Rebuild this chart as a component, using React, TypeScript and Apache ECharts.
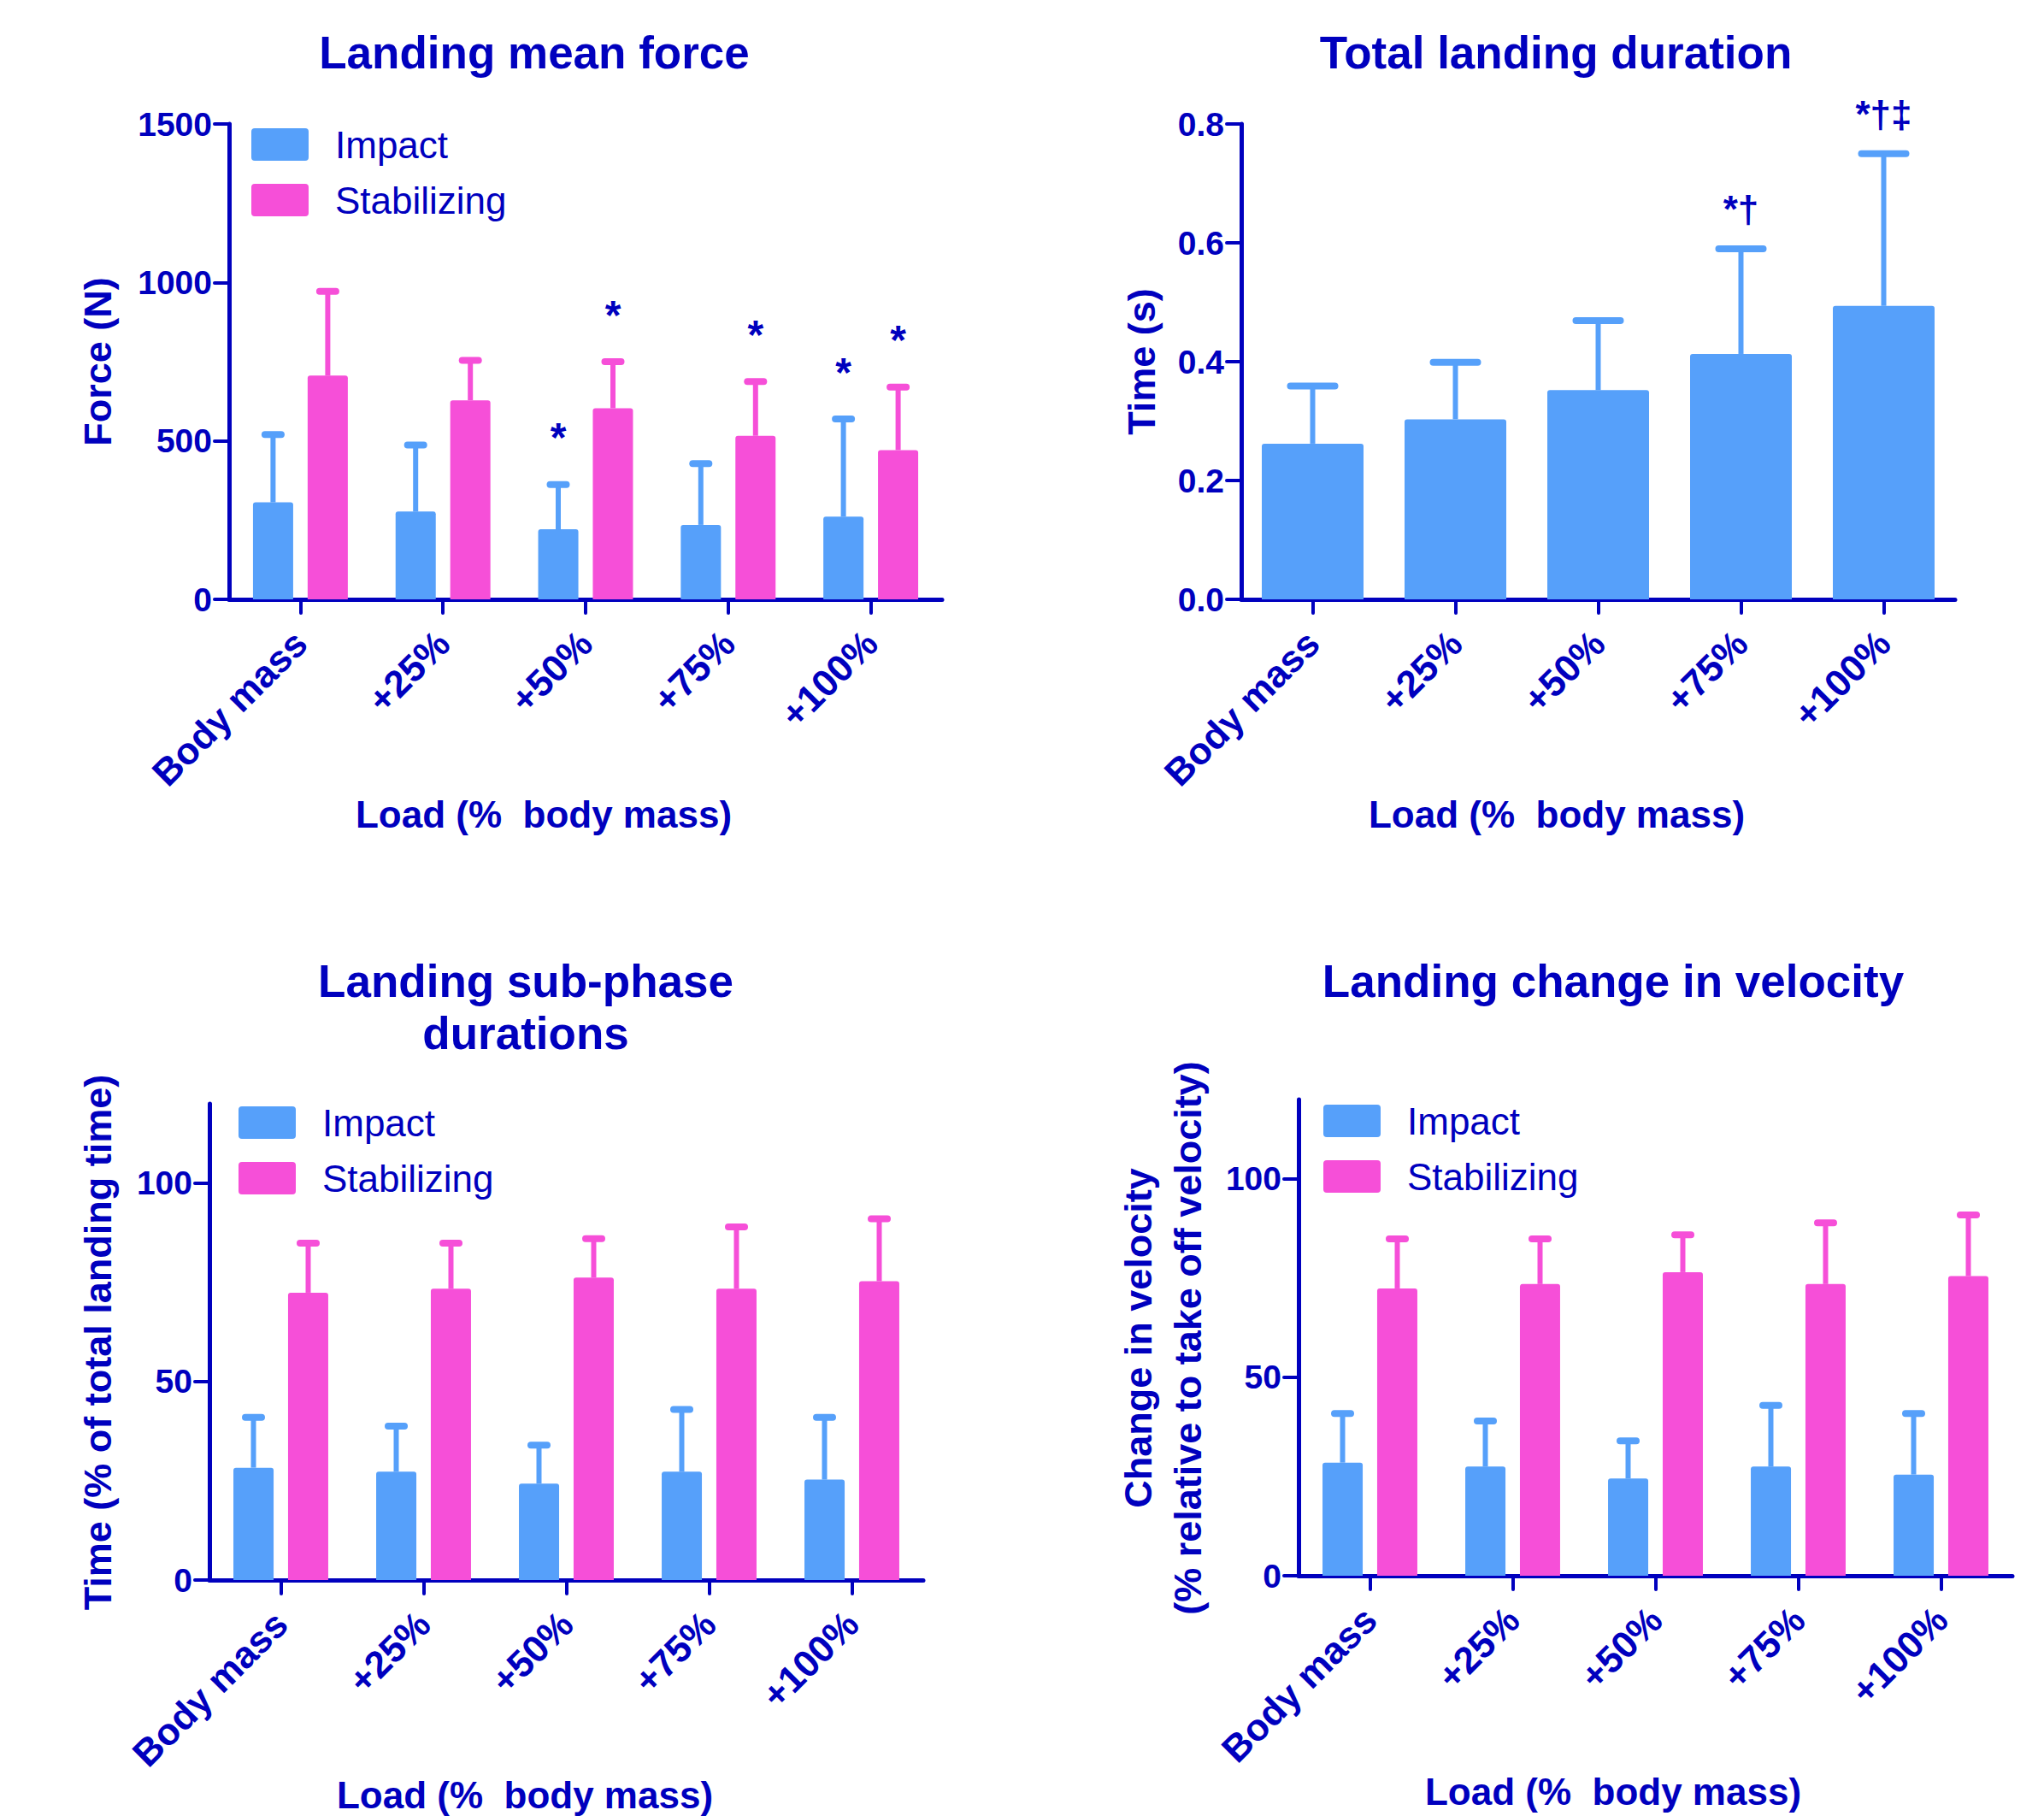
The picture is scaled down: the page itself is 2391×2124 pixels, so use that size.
import React, { useEffect, useRef } from 'react';
import * as echarts from 'echarts';

// ---- data ----
const loadCategories = ['Body mass', '+25%', '+50%', '+75%', '+100%'];
const seriesNames = ['Impact', 'Stabilizing'];

// Landing mean force (N): mean and mean + SD
const forceImpactMean = [306, 277, 221, 235, 261];
const forceImpactUpper = [520, 487, 362, 428, 569];
const forceImpactMarks = ['', '', '*', '', '*'];
const forceStabMean = [706, 628, 603, 516, 471];
const forceStabUpper = [972, 754, 750, 687, 670];
const forceStabMarks = ['', '', '*', '*', '*'];

// Total landing duration (s)
const durationMean = [0.262, 0.303, 0.352, 0.413, 0.494];
const durationUpper = [0.359, 0.399, 0.469, 0.59, 0.75];
const durationMarks = ['', '', '', '*†', '*†‡'];

// Landing sub-phase durations (% of total landing time)
const phaseImpactMean = [28.3, 27.3, 24.3, 27.3, 25.3];
const phaseImpactUpper = [41.0, 38.8, 34.0, 43.0, 41.0];
const phaseStabMean = [72.4, 73.4, 76.2, 73.4, 75.3];
const phaseStabUpper = [84.9, 84.9, 86.0, 89.0, 91.0];

// Landing change in velocity (% relative to take off velocity)
const velImpactMean = [28.5, 27.5, 24.5, 27.5, 25.5];
const velImpactUpper = [40.9, 39.0, 34.0, 42.9, 40.9];
const velStabMean = [72.4, 73.5, 76.5, 73.5, 75.5];
const velStabUpper = [84.9, 84.9, 85.9, 88.9, 90.9];

const noMarks = ['', '', '', '', ''];

// ---- styling ----
const FONT = '"Liberation Sans", Arial, Helvetica, sans-serif';
const INK = '#0000BE';
const BLUE = '#56A0FA';
const PINK = '#F64FD8';
const SWATCH = 'path://M4,0 H63 Q67,0 67,4 V34 Q67,38 63,38 H4 Q0,38 0,34 V4 Q0,0 4,0 Z';

const GROUP_BAR = 47;
const GROUP_GAP = '36%';
const GROUP_OFFSET = 32;
const SINGLE_BAR = 119;

function errorBars(
  name: string,
  axis: number,
  means: number[],
  uppers: number[],
  marks: string[],
  offset: number,
  capLen: number,
  color: string,
  markGap = 24,
  markSize = 44
) {
  return {
    type: 'custom',
    name,
    xAxisIndex: axis,
    yAxisIndex: axis,
    silent: true,
    z: 3,
    data: means.map((m, i) => [i, m, uppers[i]]),
    encode: { x: 0, y: [1, 2] },
    renderItem: (params: any, api: any) => {
      const i = api.value(0);
      const base = api.coord([i, api.value(1)]);
      const top = api.coord([i, api.value(2)]);
      const x = base[0] + offset;
      const children: any[] = [
        {
          type: 'line',
          shape: { x1: x, y1: base[1], x2: x, y2: top[1] },
          style: { stroke: color, lineWidth: 6 },
        },
        {
          type: 'line',
          shape: { x1: x - capLen / 2, y1: top[1], x2: x + capLen / 2, y2: top[1] },
          style: { stroke: color, lineWidth: 8, lineCap: 'round' },
        },
      ];
      const mark = marks[params.dataIndex];
      if (mark) {
        children.push({
          type: 'text',
          x,
          y: top[1] - markGap,
          style: {
            text: mark,
            fill: INK,
            fontSize: markSize,
            fontWeight: 'bold',
            fontFamily: FONT,
            align: 'center',
            verticalAlign: 'bottom',
          },
        });
      }
      return { type: 'group', children };
    },
  };
}

function bars(name: string, axis: number, values: number[], color: string, width: number, gap?: string) {
  const s: any = {
    type: 'bar',
    name,
    xAxisIndex: axis,
    yAxisIndex: axis,
    data: values,
    barWidth: width,
    itemStyle: { color, borderRadius: [3, 3, 0, 0] },
    silent: true,
    z: 2,
  };
  if (gap) s.barGap = gap;
  return s;
}

function xAxis(grid: number) {
  return {
    type: 'category',
    gridIndex: grid,
    data: loadCategories,
    axisLine: { show: true, lineStyle: { color: INK, width: 5, cap: 'round' } },
    axisTick: { show: true, alignWithLabel: true, length: 16, lineStyle: { color: INK, width: 4, cap: 'round' } },
    splitLine: { show: false },
    axisLabel: {
      interval: 0,
      rotate: 45,
      margin: 44,
      color: INK,
      fontSize: 44,
      fontWeight: 'bold',
      fontFamily: FONT,
    },
  };
}

function yAxis(grid: number, max: number, interval: number, ticks: number[], decimals: number) {
  return {
    type: 'value',
    gridIndex: grid,
    min: 0,
    max,
    interval,
    axisLine: { show: true, lineStyle: { color: INK, width: 5, cap: 'round' } },
    axisTick: { show: true, length: 17, customValues: ticks, lineStyle: { color: INK, width: 4, cap: 'round' } },
    splitLine: { show: false },
    axisLabel: {
      customValues: ticks,
      margin: 20,
      color: INK,
      fontSize: 39,
      fontWeight: 'bold',
      fontFamily: FONT,
      formatter: (v: number) => v.toFixed(decimals),
    },
  };
}

function legend(left: number, top: number) {
  return {
    data: seriesNames,
    orient: 'vertical',
    left,
    top,
    padding: 0,
    itemWidth: 67,
    itemHeight: 38,
    itemGap: 21,
    icon: SWATCH,
    selectedMode: false,
    textStyle: {
      color: INK,
      fontSize: 44,
      lineHeight: 44,
      fontFamily: FONT,
      fontWeight: 'normal',
      padding: [0, 0, 0, 26],
    },
  };
}

function label(text: string, x: number, y: number, size: number, vertical = false, lineHeight?: number) {
  const style: any = {
    text,
    fill: INK,
    fontSize: size,
    fontWeight: 'bold',
    fontFamily: FONT,
    align: 'center',
    verticalAlign: 'middle',
  };
  if (lineHeight) style.lineHeight = lineHeight;
  return { type: 'text', x, y, rotation: vertical ? Math.PI / 2 : 0, style, silent: true };
}

export default function App() {
  const ref = useRef<HTMLDivElement>(null);

  useEffect(() => {
    if (!ref.current) return;
    const chart = echarts.init(ref.current, null, { renderer: 'svg' });

    const option: any = {
      animation: false,
      backgroundColor: '#ffffff',
      grid: [
        { left: 268, top: 145, width: 834, height: 556, outerBoundsMode: 'none' },
        { left: 1452, top: 145, width: 835, height: 556, outerBoundsMode: 'none' },
        { left: 245, top: 1291, width: 835, height: 557, outerBoundsMode: 'none' },
        { left: 1519, top: 1286, width: 835, height: 557, outerBoundsMode: 'none' },
      ],
      xAxis: [xAxis(0), xAxis(1), xAxis(2), xAxis(3)],
      yAxis: [
        yAxis(0, 1500, 500, [0, 500, 1000, 1500], 0),
        yAxis(1, 0.8, 0.2, [0, 0.2, 0.4, 0.6, 0.8], 1),
        yAxis(2, 120, 50, [0, 50, 100], 0),
        yAxis(3, 120, 50, [0, 50, 100], 0),
      ],
      legend: [legend(294, 147), legend(279, 1291), legend(1548, 1289)],
      series: [
        bars('Impact', 0, forceImpactMean, BLUE, GROUP_BAR, GROUP_GAP),
        bars('Stabilizing', 0, forceStabMean, PINK, GROUP_BAR, GROUP_GAP),
        errorBars('Impact SD', 0, forceImpactMean, forceImpactUpper, forceImpactMarks, -GROUP_OFFSET, 19, BLUE, 31, 48),
        errorBars('Stabilizing SD', 0, forceStabMean, forceStabUpper, forceStabMarks, GROUP_OFFSET, 19, PINK, 31, 48),

        bars('Total', 1, durationMean, BLUE, SINGLE_BAR),
        errorBars('Total SD', 1, durationMean, durationUpper, durationMarks, 0, 52, BLUE),

        bars('Impact', 2, phaseImpactMean, BLUE, GROUP_BAR, GROUP_GAP),
        bars('Stabilizing', 2, phaseStabMean, PINK, GROUP_BAR, GROUP_GAP),
        errorBars('Impact SD', 2, phaseImpactMean, phaseImpactUpper, noMarks, -GROUP_OFFSET, 19, BLUE),
        errorBars('Stabilizing SD', 2, phaseStabMean, phaseStabUpper, noMarks, GROUP_OFFSET, 19, PINK),

        bars('Impact', 3, velImpactMean, BLUE, GROUP_BAR, GROUP_GAP),
        bars('Stabilizing', 3, velStabMean, PINK, GROUP_BAR, GROUP_GAP),
        errorBars('Impact SD', 3, velImpactMean, velImpactUpper, noMarks, -GROUP_OFFSET, 19, BLUE),
        errorBars('Stabilizing SD', 3, velStabMean, velStabUpper, noMarks, GROUP_OFFSET, 19, PINK),
      ],
      graphic: [
        // panel titles
        label('Landing mean force', 625, 61, 53),
        label('Total landing duration', 1820, 61, 53),
        label('Landing sub-phase\ndurations', 615, 1178, 53, false, 61),
        label('Landing change in velocity', 1887, 1147, 53),
        // x axis names
        label('Load (%  body mass)', 636, 952, 44),
        label('Load (%  body mass)', 1821, 952, 44),
        label('Load (%  body mass)', 614, 2099, 44),
        label('Load (%  body mass)', 1887, 2095, 44),
        // y axis names
        label('Force (N)', 114, 423, 45, true),
        label('Time (s)', 1335, 423, 45, true),
        label('Time (% of total landing time)', 114, 1570, 45, true),
        label('Change in velocity\n(% relative to take off velocity)', 1360, 1565, 45, true, 58),
      ],
    };

    chart.setOption(option);
    return () => chart.dispose();
  }, []);

  return (
    <div
      ref={ref}
      style={{ position: 'absolute', left: 0, top: 0, width: 2391, height: 2124, background: '#fff' }}
    />
  );
}
